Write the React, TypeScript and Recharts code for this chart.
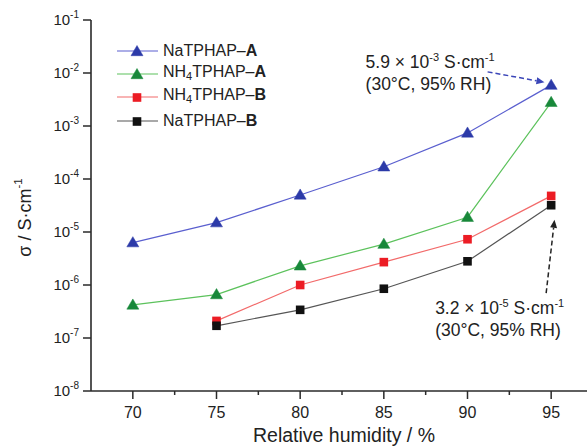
import React from 'react';
import { LineChart, Line, XAxis, YAxis, Legend, ReferenceLine } from 'recharts';

// ---- data ----
const humidity = [70, 75, 80, 85, 90, 95];
const naTPHAP_A = [6.3e-6, 1.5e-5, 5.0e-5, 1.7e-4, 7.4e-4, 5.9e-3];
const nh4TPHAP_A = [4.2e-7, 6.6e-7, 2.3e-6, 5.9e-6, 1.9e-5, 2.8e-3];
const nh4TPHAP_B = [null, 2.1e-7, 1.0e-6, 2.7e-6, 7.3e-6, 4.8e-5];
const naTPHAP_B = [null, 1.7e-7, 3.4e-7, 8.5e-7, 2.8e-6, 3.2e-5];

const xMajorTicks = [70, 75, 80, 85, 90, 95];
const xMinorTicks = [72.5, 77.5, 82.5, 87.5, 92.5, 97.5];
const yTickExponents = [-1, -2, -3, -4, -5, -6, -7, -8];
const xDomain = [67.5, 97.5];
const yDomain = [1e-8, 1e-1];

// annotation arrows, in data coordinates: [start, tip]
const arrowTop = [{ x: 91.2, y: 1.05e-2 }, { x: 94.6, y: 6.7e-3 }];
const arrowBottom = [{ x: 94.7, y: 7.0e-7 }, { x: 95.2, y: 1.7e-5 }];

const data = humidity.map((h, i) => ({
  rh: h,
  naA: naTPHAP_A[i],
  nh4A: nh4TPHAP_A[i],
  nh4B: nh4TPHAP_B[i],
  naB: naTPHAP_B[i],
}));

const FONT = '"Liberation Sans", Arial, Helvetica, sans-serif';
const AXIS = '#2a2a2a';

type SeriesCfg = {
  key: string;
  prefix: string;
  sub?: string;
  rest: string;
  letter: string;
  line: string;
  marker: string;
  shape: 'tri' | 'sq';
};

const series: SeriesCfg[] = [
  { key: 'naA', prefix: 'NaTPHAP', rest: '–', letter: 'A', line: '#5a5fcf', marker: '#2c3aa8', shape: 'tri' },
  { key: 'nh4A', prefix: 'NH', sub: '4', rest: 'TPHAP–', letter: 'A', line: '#5cc25c', marker: '#18883a', shape: 'tri' },
  { key: 'nh4B', prefix: 'NH', sub: '4', rest: 'TPHAP–', letter: 'B', line: '#f26a6a', marker: '#ec1c24', shape: 'sq' },
  { key: 'naB', prefix: 'NaTPHAP', rest: '–', letter: 'B', line: '#555555', marker: '#111111', shape: 'sq' },
];

function Marker({ cx, cy, shape, color }: { cx: number; cy: number; shape: string; color: string }) {
  if (shape === 'tri') {
    return (
      <polygon
        points={`${cx},${cy - 6} ${cx - 6},${cy + 4.2} ${cx + 6},${cy + 4.2}`}
        fill={color}
        stroke={color}
        strokeWidth={0.5}
      />
    );
  }
  return <rect x={cx - 4.3} y={cy - 4.3} width={8.6} height={8.6} fill={color} />;
}

const makeDot = (cfg: SeriesCfg) => (props: any) => {
  const { cx, cy, index } = props;
  if (cx == null || cy == null || isNaN(cx) || isNaN(cy)) return <g key={`e-${cfg.key}-${index}`} />;
  return (
    <g key={`d-${cfg.key}-${index}`}>
      <Marker cx={cx} cy={cy} shape={cfg.shape} color={cfg.marker} />
    </g>
  );
};

const XTick = (props: any) => {
  const { x, y, payload } = props;
  const major = xMajorTicks.includes(payload.value);
  return (
    <g>
      <line x1={x} y1={y} x2={x} y2={y + (major ? 8 : 4)} stroke={AXIS} strokeWidth={1.5} />
      {major && (
        <text x={x} y={y + 27} textAnchor="middle" fontSize={16} fill="#222" fontFamily={FONT}>
          {payload.value}
        </text>
      )}
    </g>
  );
};

const YTick = (props: any) => {
  const { x, y, payload } = props;
  const exp = Math.round(Math.log10(payload.value));
  return (
    <g>
      <line x1={x - 8} y1={y} x2={x} y2={y} stroke={AXIS} strokeWidth={1.5} />
      <text x={x - 12} y={y + 5} textAnchor="end" fontSize={15} fill="#222" fontFamily={FONT}>
        10
        <tspan dy={-7} fontSize={10}>
          {String(exp)}
        </tspan>
      </text>
    </g>
  );
};

const YLabel = (props: any) => {
  const vb = props.viewBox || {};
  const cx = (vb.x ?? 0) + 25;
  const cy = (vb.y ?? 0) + (vb.height ?? 0) / 2 + 12;
  return (
    <text
      x={cx}
      y={cy}
      transform={`rotate(-90 ${cx} ${cy})`}
      textAnchor="middle"
      dominantBaseline="central"
      fontSize={18}
      fill="#222"
      fontFamily={FONT}
    >
      σ / S·cm
      <tspan dy={-7} fontSize={11.5}>-1</tspan>
    </text>
  );
};

const XLabel = (props: any) => {
  const vb = props.viewBox || {};
  const cx = (vb.x ?? 0) + (vb.width ?? 0) / 2 + 2;
  const cy = (vb.y ?? 0) + 51;
  return (
    <text x={cx} y={cy} textAnchor="middle" fontSize={19.5} fill="#222" fontFamily={FONT}>
      Relative humidity / %
    </text>
  );
};

function arrowHead(x1: number, y1: number, x2: number, y2: number, len: number, half: number) {
  const dx = x2 - x1;
  const dy = y2 - y1;
  const d = Math.sqrt(dx * dx + dy * dy) || 1;
  const ux = dx / d;
  const uy = dy / d;
  const bx = x2 - ux * len;
  const by = y2 - uy * len;
  const px = -uy * half;
  const py = ux * half;
  return {
    pts: `${x2},${y2} ${bx + px},${by + py} ${bx - px},${by - py}`,
    bx,
    by,
  };
}

const AnnoText = ({ x, y, value, exp }: { x: number; y: number; value: string; exp: string }) => (
  <g fontFamily={FONT} fill="#222">
    <text x={x} y={y} fontSize={17.5}>
      {value} × 10
      <tspan dy={-7} fontSize={11}>{exp}</tspan>
      <tspan dy={7}> S·cm</tspan>
      <tspan dy={-7} fontSize={11}>-1</tspan>
    </text>
    <text x={x} y={y + 22} fontSize={17.5}>
      (30°C, 95% RH)
    </text>
  </g>
);

const makeArrowShape = (color: string, textDx: number, textDy: number, value: string, exp: string) => (p: any) => {
  const { x1, y1, x2, y2 } = p;
  if ([x1, y1, x2, y2].some((v) => v == null || isNaN(v))) return <g />;
  const h = arrowHead(x1, y1, x2, y2, 8, 3.5);
  return (
    <g>
      <line x1={x1} y1={y1} x2={h.bx} y2={h.by} stroke={color} strokeWidth={1.5} strokeDasharray="5 3" />
      <polygon points={h.pts} fill={color} />
      <AnnoText x={x1 + textDx} y={y1 + textDy} value={value} exp={exp} />
    </g>
  );
};

const LegendContent = () => (
  <div style={{ fontFamily: FONT, fontSize: 16, color: '#222' }}>
    {series.map((s) => (
      <div key={s.key} style={{ display: 'flex', alignItems: 'center', height: 23.3 }}>
        <svg width={46} height={16} style={{ display: 'block' }}>
          <line x1={0} y1={8} x2={41} y2={8} stroke={s.line} strokeWidth={1.2} />
          <Marker cx={20} cy={8.5} shape={s.shape} color={s.marker} />
        </svg>
        <span style={{ whiteSpace: 'nowrap', lineHeight: '16px' }}>
          {s.prefix}
          {s.sub && <sub style={{ fontSize: 11, verticalAlign: -3 }}>{s.sub}</sub>}
          {s.rest}
          <b>{s.letter}</b>
        </span>
      </div>
    ))}
  </div>
);

export default function App() {
  return (
    <div
      style={{
        position: 'absolute',
        left: 0,
        top: 0,
        width: 587,
        height: 448,
        overflow: 'hidden',
        background: '#fff',
      }}
    >
      <LineChart
        width={600}
        height={448}
        data={data}
        margin={{ top: 20, right: 7, bottom: 0, left: 0 }}
        style={{ fontFamily: FONT }}
      >
        <XAxis
          xAxisId="top"
          orientation="top"
          dataKey="rh"
          type="number"
          domain={xDomain}
          height={0}
          tick={false}
          tickLine={false}
          axisLine={{ stroke: AXIS, strokeWidth: 1.6 }}
        />
        <XAxis
          dataKey="rh"
          type="number"
          domain={xDomain}
          ticks={[...xMajorTicks, ...xMinorTicks].sort((a, b) => a - b)}
          interval={0}
          height={57}
          tickSize={0}
          tickMargin={0}
          tickLine={false}
          tick={XTick}
          axisLine={{ stroke: AXIS, strokeWidth: 1.6 }}
          label={XLabel}
          allowDataOverflow
        />
        <YAxis
          type="number"
          scale="log"
          domain={yDomain}
          ticks={yTickExponents.map((e) => Math.pow(10, e))}
          interval={0}
          width={91}
          tickSize={0}
          tickMargin={0}
          tickLine={false}
          tick={YTick}
          axisLine={{ stroke: AXIS, strokeWidth: 1.6 }}
          label={YLabel}
          allowDataOverflow
        />
        <Legend
          layout="vertical"
          align="center"
          verticalAlign="middle"
          content={LegendContent}
          wrapperStyle={{ left: 117, top: 39, width: 'auto' }}
        />
        {series.map((s) => (
          <Line
            key={s.key}
            dataKey={s.key}
            stroke={s.line}
            strokeWidth={1.2}
            dot={makeDot(s)}
            activeDot={false}
            isAnimationActive={false}
            legendType="none"
          />
        ))}
        <ReferenceLine
          segment={arrowTop}
          ifOverflow="visible"
          shape={makeArrowShape('#3b46b8', -122, -4, '5.9', '-3')}
        />
        <ReferenceLine
          segment={arrowBottom}
          ifOverflow="visible"
          shape={makeArrowShape('#222222', -111, 21, '3.2', '-5')}
        />
      </LineChart>
    </div>
  );
}
